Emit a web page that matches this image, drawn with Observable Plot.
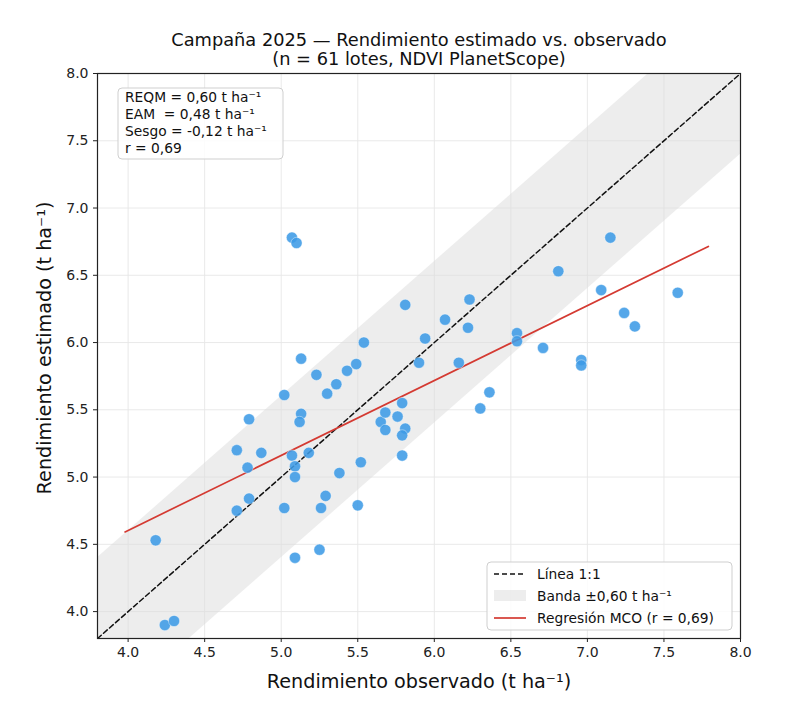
<!DOCTYPE html>
<html>
<head>
<meta charset="utf-8">
<script src="https://cdn.jsdelivr.net/npm/d3@7"></script>
<script src="https://cdn.jsdelivr.net/npm/@observablehq/plot@0.6"></script>
<style>
  html, body { margin: 0; padding: 0; background: #fff; }
  svg { font-family: "DejaVu Sans", sans-serif; }
</style>
</head>
<body>
<div id="chart"></div>
<script>
// Rendimiento observado vs. estimado por lote (t ha⁻¹)
const observado = [
  4.18, 4.24, 4.30, 4.71, 4.71, 4.78, 4.79, 4.79, 4.87, 5.02,
  5.02, 5.07, 5.10, 5.07, 5.09, 5.09, 5.09, 5.13, 5.13, 5.12,
  5.18, 5.23, 5.25, 5.26, 5.29, 5.30, 5.36, 5.38, 5.43, 5.49,
  5.50, 5.54, 5.52, 5.65, 5.68, 5.68, 5.76, 5.81, 5.79, 5.79,
  5.79, 5.81, 5.94, 5.90, 6.07, 6.16, 6.23, 6.22, 6.30, 6.36,
  6.54, 6.54, 6.71, 6.81, 6.96, 6.96, 7.09, 7.15, 7.24, 7.31,
  7.59
];
const estimado = [
  4.53, 3.90, 3.93, 4.75, 5.20, 5.07, 5.43, 4.84, 5.18, 5.61,
  4.77, 6.78, 6.74, 5.16, 5.08, 5.00, 4.40, 5.88, 5.47, 5.41,
  5.18, 5.76, 4.46, 4.77, 4.86, 5.62, 5.69, 5.03, 5.79, 5.84,
  4.79, 6.00, 5.11, 5.41, 5.48, 5.35, 5.45, 5.36, 5.31, 5.55,
  5.16, 6.28, 6.03, 5.85, 6.17, 5.85, 6.32, 6.11, 5.51, 5.63,
  6.07, 6.01, 5.96, 6.53, 5.87, 5.83, 6.39, 6.78, 6.22, 6.12,
  6.37
];
const ejeDominio = [3.8, 8.0];
const ticks = [4.0, 4.5, 5.0, 5.5, 6.0, 6.5, 7.0, 7.5, 8.0];
const banda = 0.60;
const estadisticas = [
  "REQM = 0,60 t ha⁻¹",
  "EAM  = 0,48 t ha⁻¹",
  "Sesgo = -0,12 t ha⁻¹",
  "r = 0,69"
];
const leyenda = ["Línea 1:1", "Banda ±0,60 t ha⁻¹", "Regresión MCO (r = 0,69)"];
const titulo = ["Campaña 2025 — Rendimiento estimado vs. observado", "(n = 61 lotes, NDVI PlanetScope)"];
const etiquetaX = "Rendimiento observado (t ha⁻¹)";
const etiquetaY = "Rendimiento estimado (t ha⁻¹)";

const lotes = observado.map((o, i) => ({obs: o, est: estimado[i]}));

// Ajuste por mínimos cuadrados ordinarios
const mx = d3.mean(observado), my = d3.mean(estimado);
const pendiente = d3.sum(lotes, d => (d.obs - mx) * (d.est - my)) / d3.sum(lotes, d => (d.obs - mx) ** 2);
const intercepto = my - pendiente * mx;
const xr = [d3.min(observado) - 0.2, d3.max(observado) + 0.2];
const regresion = xr.map(x => ({x, y: intercepto + pendiente * x}));
const bandaDatos = ejeDominio.map(x => ({x, lo: x - banda, hi: x + banda}));
const diagonal = ejeDominio.map(v => ({x: v, y: v}));

const W = 790, H = 703;
const mL = 97, mR = 50, mT = 73, mB = 65;
const fmt = d3.format(".1f");

const plot = Plot.plot({
  width: W, height: H,
  marginLeft: mL, marginRight: mR, marginTop: mT, marginBottom: mB,
  style: {fontFamily: "DejaVu Sans, sans-serif", fontSize: "14px", color: "#222"},
  x: {domain: ejeDominio, label: null},
  y: {domain: ejeDominio, label: null},
  marks: [
    Plot.gridX(ticks, {stroke: "#e6e6e6", strokeOpacity: 1, strokeWidth: 0.9}),
    Plot.gridY(ticks, {stroke: "#e6e6e6", strokeOpacity: 1, strokeWidth: 0.9}),
    Plot.areaY(bandaDatos, {x: "x", y1: "lo", y2: "hi", fill: "#dcdcdc", fillOpacity: 0.5, clip: true}),
    Plot.line(diagonal, {x: "x", y: "y", stroke: "#111", strokeWidth: 1.5, strokeDasharray: "5,3", clip: true}),
    Plot.line(regresion, {x: "x", y: "y", stroke: "#d43a32", strokeWidth: 1.7}),
    Plot.dot(lotes, {x: "obs", y: "est", r: 5.6, fill: "#3d9be6", fillOpacity: 0.88, stroke: "#fff", strokeWidth: 0.4}),
    Plot.frame({stroke: "#222", strokeWidth: 1.2}),
    Plot.axisX(ticks, {tickFormat: fmt, tickSize: 4, tickPadding: 5, fontSize: 14, label: null}),
    Plot.axisY(ticks, {tickFormat: fmt, tickSize: 4, tickPadding: 5, fontSize: 14, label: null}),
    Plot.text([titulo[0]], {frameAnchor: "top", lineAnchor: "middle", dy: -33, fontSize: 17.8, fill: "#111"}),
    Plot.text([titulo[1]], {frameAnchor: "top", lineAnchor: "middle", dy: -14, fontSize: 17.8, fill: "#111"}),
    Plot.text([etiquetaX], {frameAnchor: "bottom", lineAnchor: "middle", dy: 43, fontSize: 19.2, fill: "#111"}),
    Plot.text([etiquetaY], {frameAnchor: "left", dx: -53, dy: -8, rotate: -90, textAnchor: "middle", fontSize: 19.2, fill: "#111"})
  ]
});

// Cuadro de estadísticas y leyenda dentro del panel
const svg = d3.select(plot);
const fw = W - mL - mR, fh = H - mT - mB;

const stats = svg.append("g").attr("transform", `translate(${mL + 21},${mT + 15})`)
  .attr("text-anchor", "start");
stats.append("rect").attr("width", 165).attr("height", 71).attr("rx", 4)
  .attr("fill", "#fff").attr("fill-opacity", 0.85).attr("stroke", "#cfcfcf");
stats.selectAll("text").data(estadisticas).join("text")
  .attr("x", 7).attr("y", (d, i) => 14 + i * 17)
  .attr("font-size", 13.8).attr("fill", "#111")
  .style("white-space", "pre")
  .text(d => d);

const leg = svg.append("g").attr("transform", `translate(${mL + fw - 253},${mT + fh - 76})`)
  .attr("text-anchor", "start");
leg.append("rect").attr("width", 245).attr("height", 68).attr("rx", 4)
  .attr("fill", "#fff").attr("fill-opacity", 0.85).attr("stroke", "#cfcfcf");
const yy = [12, 34, 56];
leg.append("line").attr("x1", 7).attr("x2", 39).attr("y1", yy[0]).attr("y2", yy[0])
  .attr("stroke", "#111").attr("stroke-width", 1.5).attr("stroke-dasharray", "5,3");
leg.append("rect").attr("x", 7).attr("y", yy[1] - 6).attr("width", 32).attr("height", 11)
  .attr("fill", "#dcdcdc").attr("fill-opacity", 0.5);
leg.append("line").attr("x1", 7).attr("x2", 39).attr("y1", yy[2]).attr("y2", yy[2])
  .attr("stroke", "#d43a32").attr("stroke-width", 1.7);
leg.selectAll("text.lab").data(leyenda).join("text").attr("class", "lab")
  .attr("x", 50).attr("y", (d, i) => yy[i]).attr("dy", "0.35em")
  .attr("font-size", 13.8).attr("fill", "#111")
  .text(d => d);

document.getElementById("chart").append(plot);
</script>
</body>
</html>
